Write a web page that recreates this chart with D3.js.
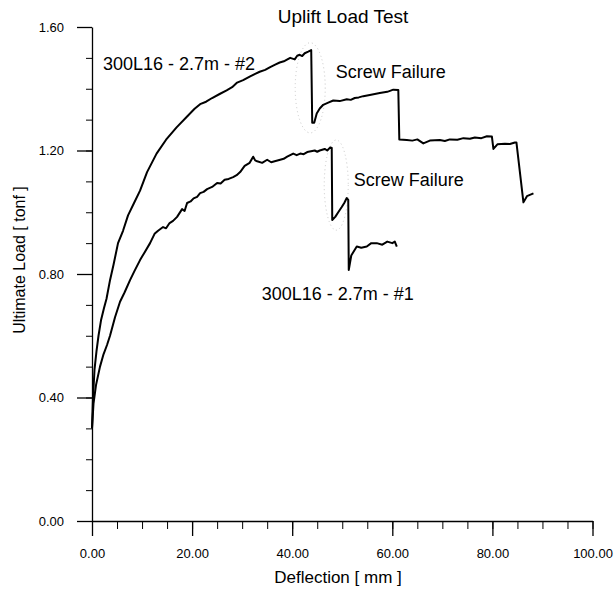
<!DOCTYPE html>
<html>
<head>
<meta charset="utf-8">
<script src="https://cdn.jsdelivr.net/npm/d3@7"></script>
<style>
  body { margin: 0; background: #fff; }
  svg text { font-family: "Liberation Sans", Arial, sans-serif; fill: #000; }
</style>
</head>
<body>
<svg id="chart" width="614" height="590"></svg>
<script>
// deflection (mm), load (tonf)
const test2 = [
  [0, 0.30], [0.2, 0.40], [0.5, 0.49], [0.9, 0.55], [1.3, 0.60], [1.8, 0.65], [2.4, 0.69],
  [2.9, 0.72], [3.6, 0.78], [4.3, 0.83], [5.2, 0.90], [6.2, 0.94], [7.2, 0.99], [8.4, 1.03],
  [9.6, 1.07], [11.0, 1.13], [12.9, 1.19], [14.8, 1.235], [16.9, 1.275], [19.0, 1.31],
  [20.5, 1.335], [21.6, 1.35], [22.8, 1.358], [24.0, 1.37], [25.5, 1.383], [26.9, 1.395],
  [28.0, 1.405], [29.0, 1.42], [30.2, 1.428], [31.6, 1.44], [32.6, 1.448], [33.5, 1.455],
  [34.6, 1.461], [35.6, 1.47], [36.6, 1.478], [37.5, 1.485], [38.5, 1.49], [39.6, 1.50],
  [40.5, 1.495], [41.0, 1.507], [41.5, 1.51], [42.0, 1.506], [42.5, 1.515], [43.2, 1.52],
  [43.8, 1.525], [44.0, 1.29], [44.4, 1.29], [44.9, 1.32], [45.5, 1.336], [46.2, 1.348],
  [47.2, 1.355], [48.2, 1.362], [49.5, 1.36], [50.9, 1.366], [51.7, 1.364], [52.5, 1.37],
  [53.3, 1.372], [54.2, 1.376], [55.5, 1.38], [56.5, 1.383], [57.5, 1.386], [59.0, 1.39],
  [60.2, 1.397], [61.2, 1.396], [61.4, 1.236], [62.9, 1.234], [64.0, 1.232], [65.0, 1.236],
  [66.2, 1.223], [67.5, 1.232], [69.5, 1.234], [70.5, 1.231], [71.5, 1.236], [73.0, 1.235],
  [74.2, 1.240], [75.5, 1.238], [76.5, 1.242], [77.8, 1.240], [78.9, 1.246], [79.9, 1.245],
  [80.2, 1.205], [81.0, 1.220], [82.5, 1.222], [83.5, 1.221], [84.5, 1.226], [84.8, 1.226],
  [86.2, 1.032], [86.9, 1.052], [88.2, 1.061]
];

const test1 = [
  [0, 0.30], [0.3, 0.38], [0.8, 0.44], [1.6, 0.50], [2.3, 0.54], [3.0, 0.57], [3.6, 0.60],
  [4.6, 0.66], [5.6, 0.71], [6.5, 0.74], [7.6, 0.78], [8.5, 0.81], [9.6, 0.845], [10.5, 0.87],
  [11.6, 0.90], [12.5, 0.93], [13.2, 0.94], [14.2, 0.952], [14.8, 0.948], [15.5, 0.965],
  [16.2, 0.972], [17.0, 0.985], [18.0, 1.01], [18.5, 1.004], [19.0, 1.03], [19.7, 1.035],
  [20.3, 1.045], [21.0, 1.05], [21.6, 1.062], [22.3, 1.066], [23.0, 1.075], [24.0, 1.082],
  [25.0, 1.095], [25.7, 1.093], [26.5, 1.105], [27.3, 1.108], [28.2, 1.114], [28.9, 1.12],
  [29.6, 1.13], [30.5, 1.15], [31.5, 1.16], [32.2, 1.18], [32.6, 1.168], [33.0, 1.165],
  [34.0, 1.16], [35.0, 1.17], [35.8, 1.162], [36.5, 1.165], [37.6, 1.17], [38.3, 1.173],
  [39.0, 1.18], [40.2, 1.19], [40.9, 1.185], [41.6, 1.19], [42.3, 1.188], [43.0, 1.195],
  [44.5, 1.20], [45.0, 1.196], [45.5, 1.20], [46.5, 1.205], [47.0, 1.2], [47.6, 1.21],
  [47.9, 1.208], [48.0, 0.975], [48.6, 0.985], [49.2, 1.00], [49.9, 1.017], [50.4, 1.03],
  [50.9, 1.046], [51.2, 1.04], [51.3, 0.813], [51.8, 0.86], [52.9, 0.889], [53.8, 0.885],
  [54.9, 0.889], [55.8, 0.90], [56.9, 0.90], [58.0, 0.895], [59.0, 0.905], [60.0, 0.90],
  [60.5, 0.905], [60.9, 0.889]
];

const xMajor = [0, 20, 40, 60, 80, 100];
const yMajor = [0, 0.4, 0.8, 1.2, 1.6];

// faint dotted rings round the failure points: [x, y, rx (mm), ry (tonf)]
const rings = [[43.6, 1.403, 3.0, 0.146], [48.8, 1.088, 2.4, 0.146]];

const labels = [
  { text: "300L16 - 2.7m - #2", x: 2.2, y: 1.461 },
  { text: "Screw Failure", x: 48.7, y: 1.435 },
  { text: "Screw Failure", x: 52.3, y: 1.085 },
  { text: "300L16 - 2.7m - #1", x: 33.9, y: 0.716 }
];

const svg = d3.select("#chart");
const x = d3.scaleLinear().domain([0, 100]).range([92, 592.5]);
const y = d3.scaleLinear().domain([0, 1.6]).range([521, 27]);

// minor ticks first, majors on top
svg.append("g")
  .attr("transform", "translate(0,521)")
  .call(d3.axisBottom(x).tickValues(d3.range(0, 101, 5)).tickSize(8).tickFormat(""))
  .call(g => g.select(".domain").remove());

svg.append("g")
  .attr("transform", "translate(92,0)")
  .call(d3.axisLeft(y).tickValues(d3.range(0, 1.61, 0.1)).tickSize(6).tickFormat(""))
  .call(g => g.select(".domain").remove());

const xAxis = svg.append("g")
  .attr("transform", "translate(0,521)")
  .call(d3.axisBottom(x).tickValues(xMajor).tickSize(15).tickSizeOuter(0).tickPadding(13)
    .tickFormat(d3.format(".2f")));

const yAxis = svg.append("g")
  .attr("transform", "translate(92,0)")
  .call(d3.axisLeft(y).tickValues(yMajor).tickSize(15).tickSizeOuter(0).tickPadding(13)
    .tickFormat(d3.format(".2f")));

[xAxis, yAxis].forEach(a => {
  a.selectAll("text").attr("font-size", "13px").attr("font-family", null);
  a.selectAll("line, path").attr("stroke", "#000").attr("stroke-width", 1.3);
});
svg.selectAll("g line").attr("stroke", "#000");

svg.selectAll(".ring")
  .data(rings)
  .join("ellipse")
  .attr("cx", d => x(d[0]))
  .attr("cy", d => y(d[1]))
  .attr("rx", d => x(d[2]) - x(0))
  .attr("ry", d => y(0) - y(d[3]))
  .attr("fill", "none")
  .attr("stroke", "#c8c8c8")
  .attr("stroke-width", 1)
  .attr("stroke-dasharray", "1,3");

const line = d3.line().x(d => x(d[0])).y(d => y(d[1]));

[test1, test2].forEach(s => {
  svg.append("path")
    .datum(s)
    .attr("d", line)
    .attr("fill", "none")
    .attr("stroke", "#000")
    .attr("stroke-width", 2)
    .attr("stroke-linejoin", "round");
});

svg.selectAll(".lbl")
  .data(labels)
  .join("text")
  .attr("x", d => x(d.x))
  .attr("y", d => y(d.y))
  .attr("font-size", "18px")
  .text(d => d.text);

svg.append("text")
  .attr("x", 343)
  .attr("y", 23)
  .attr("text-anchor", "middle")
  .attr("font-size", "19px")
  .text("Uplift Load Test");

svg.append("text")
  .attr("x", 338)
  .attr("y", 583)
  .attr("text-anchor", "middle")
  .attr("font-size", "17px")
  .text("Deflection [ mm ]");

svg.append("text")
  .attr("transform", "translate(25,260) rotate(-90)")
  .attr("text-anchor", "middle")
  .attr("font-size", "16px")
  .text("Ultimate Load [ tonf ]");
</script>
</body>
</html>
